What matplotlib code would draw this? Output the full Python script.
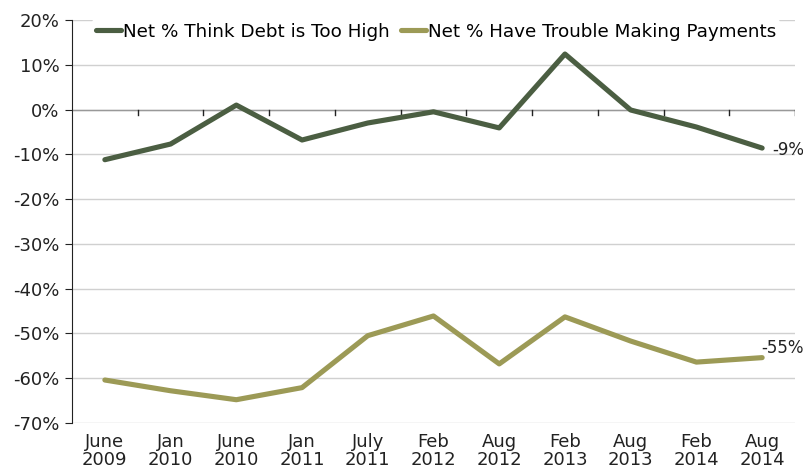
import matplotlib.pyplot as plt
from matplotlib.ticker import FuncFormatter

periods = ['June\n2009', 'Jan\n2010', 'June\n2010', 'Jan\n2011', 'July\n2011',
           'Feb\n2012', 'Aug\n2012', 'Feb\n2013', 'Aug\n2013', 'Feb\n2014',
           'Aug\n2014']
debt_too_high = [-11.2, -7.7, 1.0, -6.8, -3.0, -0.5, -4.1, 12.4, -0.1, -3.9, -8.6]
trouble_paying = [-60.4, -62.8, -64.8, -62.1, -50.5, -46.1, -56.8, -46.3, -51.7,
                  -56.4, -55.4]

dark = '#4b5e42'
olive = '#9c9a56'

plt.rcParams['font.family'] = ['DejaVu Sans']
fig = plt.figure(figsize=(8.04, 4.72), dpi=100)
ax = fig.add_axes([72 / 804, 1 - 423 / 472, (795 - 72) / 804, (423 - 20) / 472])

x = list(range(len(periods)))
ax.plot(x, debt_too_high, color=dark, lw=3.7, solid_capstyle='round',
        label='Net % Think Debt is Too High', zorder=3)
ax.plot(x, trouble_paying, color=olive, lw=3.7, solid_capstyle='round',
        label='Net % Have Trouble Making Payments', zorder=3)

# end-of-line value labels
ax.text(x[-1] + 0.15, debt_too_high[-1] - 0.4, f'{debt_too_high[-1]:.0f}%',
        fontsize=12, va='center', ha='left', color='#222222')
ax.text(x[-1] - 0.02, trouble_paying[-1] + 2.2, f'{trouble_paying[-1]:.0f}%',
        fontsize=12, va='center', ha='left', color='#222222')

ax.set_xlim(-0.5, len(periods) - 0.5)
ax.set_ylim(-70, 20)
ax.set_yticks(range(-70, 21, 10))
ax.yaxis.set_major_formatter(FuncFormatter(lambda v, p: f'{v:.0f}%'))
ax.tick_params(axis='y', labelsize=13, length=5, direction='out', pad=4,
               colors='#222222')

ax.set_xticks(x)
ax.set_xticklabels(periods, linespacing=1.05)
ax.tick_params(axis='x', length=0, labelsize=13, pad=7, colors='#222222')

ax.grid(axis='y', color='#d0d0d0', lw=1)
ax.set_axisbelow(True)
for side in ['top', 'right', 'bottom']:
    ax.spines[side].set_visible(False)
ax.spines['left'].set_color('#222222')

# zero line with tick marks between categories
ax.axhline(0, color='#999999', lw=1, zorder=2)
for b in range(1, len(periods) + 1):
    ax.plot([b - 0.5, b - 0.5], [0, -1.2], color='#222222', lw=1, zorder=2)

leg = ax.legend(loc='upper left', bbox_to_anchor=(0.015, 1.025), ncol=2,
                frameon=True, fontsize=13.2, handlelength=1.4,
                handletextpad=0.08, columnspacing=0.6, borderpad=0.2)
leg.get_frame().set_facecolor('white')
leg.get_frame().set_edgecolor('none')
leg.get_frame().set_alpha(1)

fig.savefig('out.png', dpi=100)
